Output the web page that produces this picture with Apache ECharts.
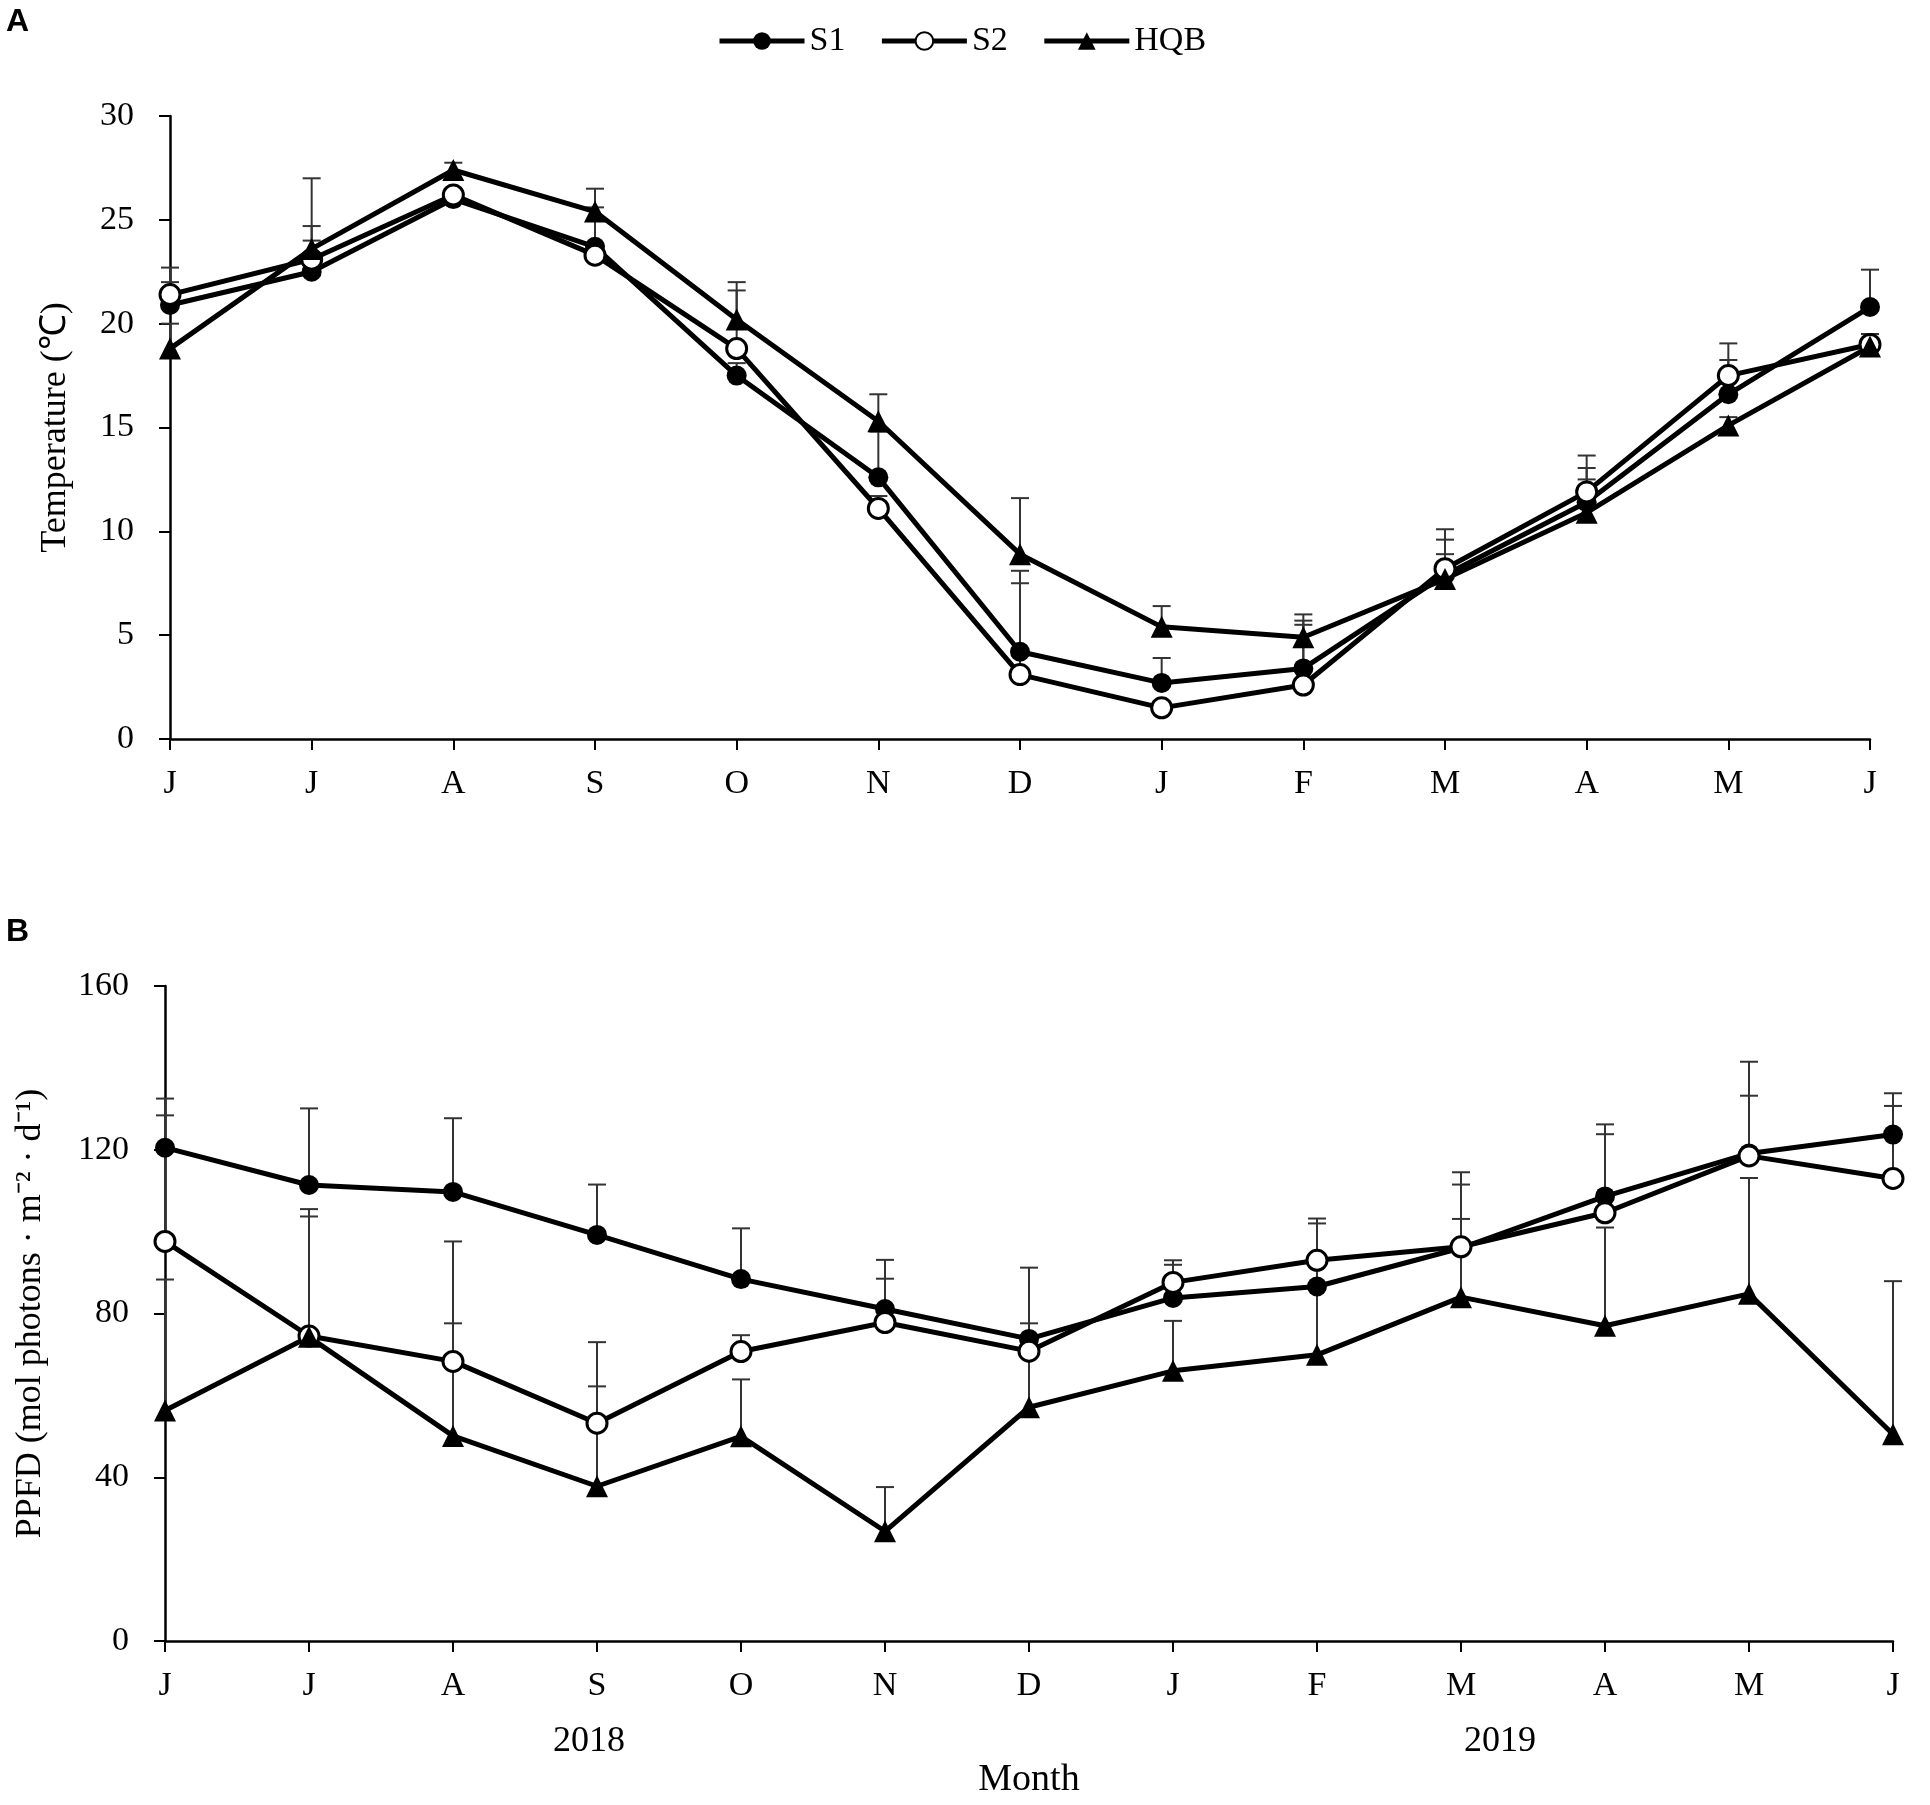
<!DOCTYPE html>
<html>
<head>
<meta charset="UTF-8">
<title>Temperature and PPFD</title>
<script src="https://cdn.jsdelivr.net/npm/echarts@6/dist/echarts.min.js"></script>
<style>
  html, body { margin: 0; padding: 0; background: #fff; }
  #main { width: 1930px; height: 1805px; }
</style>
</head>
<body>
<div id="main"></div>
<script>
// month labels, Jun 2018 .. Jun 2019
var months = ['J', 'J', 'A', 'S', 'O', 'N', 'D', 'J', 'F', 'M', 'A', 'M', 'J'];
var yearLabels = ['2018', '2019'];

// panel A: temperature (℃)
var tempS1  = [20.9, 22.5, 26.0, 23.7, 17.5, 12.6, 4.2, 2.7, 3.4, 7.9, 11.4, 16.6, 20.8];
var tempS2  = [21.4, 23.1, 26.2, 23.3, 18.8, 11.1, 3.1, 1.5, 2.6, 8.2, 11.9, 17.5, 19.0];
var tempHQB = [18.8, 23.6, 27.4, 25.4, 20.2, 15.3, 8.9, 5.4, 4.9, 7.7, 10.9, 15.1, 18.9];
// upper error bars
var tempS1Err  = [1.1, 1.5, 0.2, 1.9, 0.6, 2.2, 3.9, 1.2, 2.3, 1.7, 1.65, 1.65, 1.8];
var tempS2Err  = [1.3, 1.6, 0.2, 0.3, 2.8, 0.6, 4.4, 0.3, 2.9, 1.9, 1.75, 1.55, 0.5];
var tempHQBErr = [1.2, 3.4, 0.35, 1.1, 1.8, 1.3, 2.7, 1.0, 1.1, 1.2, 1.6, 0.4, 0.6];

// panel B: PPFD (mol photons · m-2 · d-1)
var ppfdS1  = [120.5, 111.4, 109.7, 99.2, 88.4, 81.1, 73.8, 83.8, 86.6, 96.0, 108.6, 119.1, 123.7];
var ppfdS2  = [97.6, 74.5, 68.3, 53.2, 70.7, 77.8, 70.8, 87.6, 93.0, 96.3, 104.6, 118.5, 113.0];
var ppfdHQB = [56.3, 74.3, 50.1, 37.8, 50.0, 26.8, 57.1, 66.0, 69.9, 84.0, 77.0, 84.8, 50.5];
var ppfdS1Err  = [12, 18.7, 18, 12.3, 12.4, 12, 17.4, 8.1, 15.4, 15.5, 17.6, 22.4, 10.1];
var ppfdS2Err  = [30.8, 31, 29.3, 19.8, 4, 10.7, 6.8, 5.4, 10.2, 18.2, 19.2, 14.7, 17.7];
var ppfdHQBErr = [32, 29.4, 27.5, 24.4, 13.9, 10.8, 14, 12.2, 17, 19.1, 24, 28.3, 37.4];

var serif = '"Liberation Serif", "Times New Roman", serif';

var myChart = echarts.init(document.getElementById('main'));

// line series for one group
function lineSeries(name, data, idx) {
    var s = {
        name: name,
        type: 'line',
        xAxisIndex: idx,
        yAxisIndex: idx,
        data: data,
        z: 3,
        lineStyle: { color: '#000', width: 5 },
        symbol: 'circle',
        symbolSize: 20,
        itemStyle: { color: '#000', borderColor: '#000', borderWidth: 0 }
    };
    if (name === 'S2') {
        s.itemStyle = { color: '#fff', borderColor: '#000', borderWidth: 3 };
    }
    if (name === 'HQB') {
        s.symbol = 'triangle';
        s.symbolSize = 22;
    }
    return s;
}

// upper error bars with a cap
function errSeries(name, vals, errs, idx) {
    return {
        name: name + ' err',
        type: 'custom',
        xAxisIndex: idx,
        yAxisIndex: idx,
        silent: true,
        z: 2,
        data: vals.map(function (v, i) { return [i, v, v + errs[i]]; }),
        encode: { x: 0, y: [1, 2] },
        renderItem: function (params, api) {
            var lo = api.coord([api.value(0), api.value(1)]);
            var hi = api.coord([api.value(0), api.value(2)]);
            var w = 9;
            var st = { stroke: '#333', lineWidth: 2 };
            return {
                type: 'group',
                children: [
                    { type: 'line', shape: { x1: lo[0], y1: lo[1], x2: hi[0], y2: hi[1] }, style: st },
                    { type: 'line', shape: { x1: hi[0] - w, y1: hi[1], x2: hi[0] + w, y2: hi[1] }, style: st }
                ]
            };
        }
    };
}

function xAxisOpt(idx, extra) {
    var o = {
        type: 'category',
        gridIndex: idx,
        data: months,
        boundaryGap: false,
        axisLine: { show: true, lineStyle: { color: '#000', width: 2.5 } },
        axisTick: { show: true, alignWithLabel: true, length: 11, lineStyle: { color: '#000', width: 2 } },
        axisLabel: { interval: 0, color: '#000', fontFamily: serif, fontSize: 34, margin: 28 },
        splitLine: { show: false }
    };
    for (var k in extra) o[k] = extra[k];
    return o;
}

function yAxisOpt(idx, max, step, name, gap) {
    return {
        type: 'value',
        gridIndex: idx,
        min: 0,
        max: max,
        interval: step,
        name: name,
        nameLocation: 'middle',
        nameRotate: 90,
        nameGap: gap,
        nameTextStyle: { color: '#000', fontFamily: serif, fontSize: 36 },
        axisLine: { show: true, lineStyle: { color: '#000', width: 2.5 } },
        axisTick: { show: true, length: 11, lineStyle: { color: '#000', width: 2 } },
        axisLabel: { color: '#000', fontFamily: serif, fontSize: 34, margin: 36 },
        splitLine: { show: false }
    };
}

option = {
    backgroundColor: '#fff',
    animation: false,
    legend: {
        data: ['S1', 'S2', 'HQB'],
        left: 712,
        top: 19,
        itemWidth: 85,
        itemHeight: 22,
        itemGap: 34,
        lineStyle: { width: 5 },
        textStyle: { color: '#000', fontFamily: serif, fontSize: 34 }
    },
    grid: [
        { left: 170, top: 116, width: 1700, height: 623 },
        { left: 165, top: 986, width: 1728, height: 655 }
    ],
    xAxis: [
        xAxisOpt(0, {}),
        xAxisOpt(1, {
            name: 'Month',
            nameLocation: 'middle',
            nameGap: 120,
            nameTextStyle: { color: '#000', fontFamily: serif, fontSize: 38 }
        })
    ],
    yAxis: [
        yAxisOpt(0, 30, 5, 'Temperature (℃)', 96),
        yAxisOpt(1, 160, 40, 'PPFD (mol photons · m⁻² · d⁻¹)', 116)
    ],
    graphic: [
        { type: 'text', left: 6, top: 6, style: { text: 'A', font: 'bold 32px "Liberation Sans", Arial, sans-serif', fill: '#000' } },
        { type: 'text', left: 6, top: 916, style: { text: 'B', font: 'bold 32px "Liberation Sans", Arial, sans-serif', fill: '#000' } },
        { type: 'text', x: 589, y: 1742, style: { text: yearLabels[0], font: '36px ' + serif, fill: '#000', align: 'center', verticalAlign: 'middle' } },
        { type: 'text', x: 1500, y: 1742, style: { text: yearLabels[1], font: '36px ' + serif, fill: '#000', align: 'center', verticalAlign: 'middle' } }
    ],
    series: [
        errSeries('S1', tempS1, tempS1Err, 0),
        errSeries('S2', tempS2, tempS2Err, 0),
        errSeries('HQB', tempHQB, tempHQBErr, 0),
        lineSeries('S1', tempS1, 0),
        lineSeries('S2', tempS2, 0),
        lineSeries('HQB', tempHQB, 0),
        errSeries('S1', ppfdS1, ppfdS1Err, 1),
        errSeries('S2', ppfdS2, ppfdS2Err, 1),
        errSeries('HQB', ppfdHQB, ppfdHQBErr, 1),
        lineSeries('S1', ppfdS1, 1),
        lineSeries('S2', ppfdS2, 1),
        lineSeries('HQB', ppfdHQB, 1)
    ]
};
myChart.setOption(option);
</script>
</body>
</html>
